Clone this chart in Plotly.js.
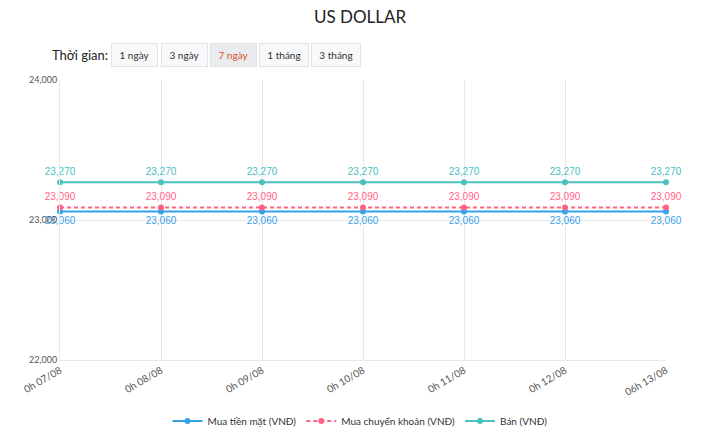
<!DOCTYPE html>
<html>
<head>
<meta charset="utf-8">
<script src="https://cdn.plot.ly/plotly-3.0.1.min.js"></script>
<style>
  body { margin: 0; background: #fff; }
  #chart { width: 720px; height: 432px; }
</style>
</head>
<body>
<div id="chart"></div>
<script>
// du lieu ty gia USD
const days = ['0h 07/08', '0h 08/08', '0h 09/08', '0h 10/08', '0h 11/08', '0h 12/08', '06h 13/08'];
const muaTienMat = [23060, 23060, 23060, 23060, 23060, 23060, 23060];
const muaChuyenKhoan = [23090, 23090, 23090, 23090, 23090, 23090, 23090];
const ban = [23270, 23270, 23270, 23270, 23270, 23270, 23270];
const periods = ['1 ngày', '3 ngày', '7 ngày', '1 tháng', '3 tháng'];
const activePeriod = '7 ngày';

const fmt = v => v.toLocaleString('en-US');

function serie(name, ys, color, dash, pos) {
    return {
        x: days, y: ys, name: name, type: 'scatter', mode: 'lines+markers+text',
        line: { color: color, width: 2, dash: dash },
        marker: { color: color, size: 6 },
        text: ys.map(fmt), textposition: pos,
        textfont: { color: color, size: 10, family: 'Liberation Sans, Arial' },
        cliponaxis: false
    };
}

const traces = [
    serie('Mua tiền mặt (VNĐ)', muaTienMat, '#36a2eb', 'solid', 'bottom center'),
    serie('Mua chuyển khoản (VNĐ)', muaChuyenKhoan, '#ff6384', '4px,3px', 'top center'),
    serie('Bán (VNĐ)', ban, '#4bc0c0', 'solid', 'top center')
];

// nut chon thoi gian (chi hien thi)
const btnX = [134, 184, 233, 284, 336];
const btnW = [41, 41, 41, 44, 44];
let annotations = [{
    text: 'Thời gian:', xref: 'paper', yref: 'paper', x: -10 / 606, y: 1 + 25 / 280,
    xanchor: 'left', yanchor: 'middle', showarrow: false,
    font: { size: 13, color: '#222', family: 'Lato, sans-serif' }
}];
periods.forEach((p, i) => {
    const on = p === activePeriod;
    annotations.push({
        text: p, xref: 'paper', yref: 'paper',
        x: (btnX[i] - 60) / 606, y: 1 + 25 / 280,
        xanchor: 'center', yanchor: 'middle', showarrow: false,
        width: btnW[i], height: 18, borderpad: 2,
        bgcolor: on ? '#e9ecef' : '#f8f9fa', bordercolor: '#e3e3e3', borderwidth: 1,
        font: { size: 10, color: on ? '#d9531e' : '#333', family: 'Lato, sans-serif' }
    });
});

const layout = {
    width: 720, height: 432,
    margin: { l: 60, r: 54, t: 80, b: 72 },
    paper_bgcolor: '#fff', plot_bgcolor: '#fff',
    title: { text: 'US DOLLAR', x: 0.5, y: 0.96, yanchor: 'middle',
             font: { size: 17, color: '#222', family: 'Lato, sans-serif' } },
    font: { family: 'Lato, sans-serif', color: '#555' },
    xaxis: {
        type: 'category', range: [0, 6], tickangle: -30, automargin: false,
        showgrid: true, gridcolor: '#e8e8e8', zeroline: false,
        showline: true, linecolor: '#e8e8e8',
        tickfont: { size: 10, color: '#555' }, ticks: ''
    },
    yaxis: {
        range: [22000, 24000], dtick: 1000, tickformat: ',', automargin: false,
        showgrid: true, gridcolor: '#e8e8e8', zeroline: false,
        showline: true, linecolor: '#e8e8e8',
        tickfont: { size: 9, color: '#555' }, ticks: ''
    },
    showlegend: true,
    legend: { orientation: 'h', x: 0.5, xref: 'container', xanchor: 'center',
              y: 11 / 432, yref: 'container', yanchor: 'middle',
              font: { size: 10, color: '#333' }, itemwidth: 30 },
    annotations: annotations
};

Plotly.newPlot('chart', traces, layout, { displayModeBar: false, staticPlot: true });
</script>
</body>
</html>
